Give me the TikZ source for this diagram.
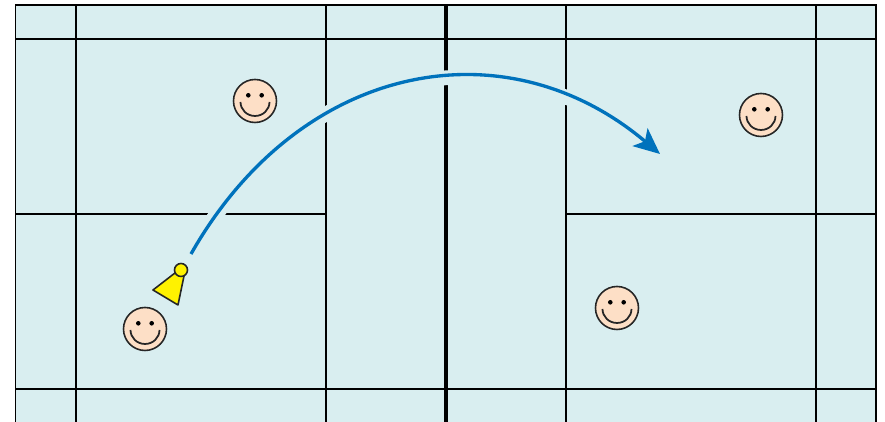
\documentclass[tikz,border=0pt]{standalone}
\usepackage{tikz}
\usetikzlibrary{arrows.meta}
\definecolor{courtcol}{HTML}{D9EEF0}
\definecolor{flightcol}{HTML}{0072BC}
\definecolor{facecol}{HTML}{FDDFC6}
\definecolor{shuttlecol}{HTML}{FFF200}
\tikzset{
  courtline/.style={black,line width=0.45pt},
  netline/.style={black,line width=0.92pt},
  smiley/.style={circle,draw=black!85,fill=facecol,line width=0.45pt,minimum size=0.43cm,inner sep=0pt},
  flight/.style={flightcol,line width=0.95pt,-{Stealth[length=7.4pt,width=6.6pt,inset=1.8pt]}},
  halo/.style={draw=courtcol,line width=4.2pt,-}
}
\begin{document}
\begin{tikzpicture}
    \useasboundingbox (0,0) rectangle (8.85,4.22);
    \fill[courtcol] (0.155,0) rectangle (8.76,4.17);
    % Court lines
    \draw[courtline] (0.155,0) -- (0.155,4.17) -- (8.76,4.17) -- (8.76,0);
    \foreach \x in {0.76,3.26,5.66,8.16}
        \draw[courtline] (\x,0) -- (\x,4.17);
    \foreach \y in {0.33,3.83}
        \draw[courtline] (0.155,\y) -- (8.76,\y);
    \draw[courtline] (0.155,2.08) -- (3.26,2.08);
    \draw[courtline] (5.66,2.08) -- (8.76,2.08);
    \draw[netline] (4.46,0) -- (4.46,4.17); % Net
    % Players
    \foreach \x/\y/\n in {2.55/3.21/a,7.61/3.07/b,6.17/1.14/c,1.45/0.93/d} {
        \node[smiley] (face\n) at (\x,\y) {};
        \fill (face\n) ++(-0.067,0.057) circle (0.023);
        \fill (face\n) ++(0.067,0.057) circle (0.023);
        \draw[line width=0.5pt,black!85] (face\n) ++(-0.145,-0.01) arc (180:360:0.145 and 0.14);
    }
    % Shuttle flight
    \coordinate (takeoff) at (1.91,1.68);
    \coordinate (landing) at (6.60,2.68);
    \draw[flight,preaction={halo}] (takeoff) .. controls (3.00,3.60) and (5.05,3.99) .. (landing);
    \draw[black!85,fill=shuttlecol,line width=0.45pt,line join=round] (1.75,1.49) -- (1.53,1.32) -- (1.78,1.17) -- (1.84,1.46) -- cycle;
    \draw[black!85,fill=shuttlecol,line width=0.45pt] (1.81,1.52) circle (0.065);
\end{tikzpicture}
\end{document}
